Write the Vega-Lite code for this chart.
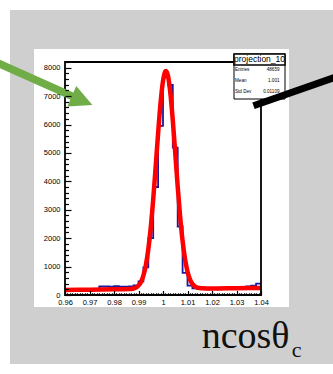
{
  "$schema": "https://vega.github.io/schema/vega-lite/v6.json",
  "width": 196,
  "height": 233,
  "autosize": {"type": "none"},
  "padding": {"left": 65, "top": 62, "right": 72, "bottom": 79},
  "background": "white",
  "config": {
    "view": {"stroke": null},
    "axis": {
      "grid": false,
      "domain": false,
      "title": null,
      "labelFont": "Liberation Sans",
      "labelFontSize": 7.5,
      "labelColor": "black",
      "tickColor": "black",
      "tickWidth": 1.2
    }
  },
  "datasets": {
    "bins": [
      {"lo": 0.960, "count": 150}, {"lo": 0.962, "count": 150}, {"lo": 0.964, "count": 160},
      {"lo": 0.966, "count": 160}, {"lo": 0.968, "count": 170}, {"lo": 0.970, "count": 170},
      {"lo": 0.972, "count": 180}, {"lo": 0.974, "count": 300}, {"lo": 0.976, "count": 300},
      {"lo": 0.978, "count": 290}, {"lo": 0.980, "count": 310}, {"lo": 0.982, "count": 290},
      {"lo": 0.984, "count": 290}, {"lo": 0.986, "count": 300}, {"lo": 0.988, "count": 340},
      {"lo": 0.990, "count": 480}, {"lo": 0.992, "count": 970}, {"lo": 0.994, "count": 2000},
      {"lo": 0.996, "count": 3800}, {"lo": 0.998, "count": 5950}, {"lo": 1.000, "count": 7660},
      {"lo": 1.002, "count": 7390}, {"lo": 1.004, "count": 5190}, {"lo": 1.006, "count": 2410},
      {"lo": 1.008, "count": 780}, {"lo": 1.010, "count": 330}, {"lo": 1.012, "count": 230},
      {"lo": 1.014, "count": 210}, {"lo": 1.016, "count": 210}, {"lo": 1.018, "count": 200},
      {"lo": 1.020, "count": 210}, {"lo": 1.022, "count": 200}, {"lo": 1.024, "count": 210},
      {"lo": 1.026, "count": 210}, {"lo": 1.028, "count": 220}, {"lo": 1.030, "count": 220},
      {"lo": 1.032, "count": 230}, {"lo": 1.034, "count": 300}, {"lo": 1.036, "count": 330},
      {"lo": 1.038, "count": 400}, {"lo": 1.040, "count": 400}
    ],
    "fit": [
      {"x": 0.960, "fit": 180}, {"x": 0.970, "fit": 189}, {"x": 0.980, "fit": 198},
      {"x": 0.984, "fit": 201}, {"x": 0.986, "fit": 207}, {"x": 0.987, "fit": 214},
      {"x": 0.988, "fit": 230}, {"x": 0.989, "fit": 263}, {"x": 0.990, "fit": 330},
      {"x": 0.991, "fit": 458}, {"x": 0.992, "fit": 683}, {"x": 0.993, "fit": 1050},
      {"x": 0.994, "fit": 1606}, {"x": 0.995, "fit": 2378}, {"x": 0.996, "fit": 3365},
      {"x": 0.997, "fit": 4507}, {"x": 0.998, "fit": 5691}, {"x": 0.999, "fit": 6756},
      {"x": 1.000, "fit": 7531}, {"x": 1.001, "fit": 7876}, {"x": 1.0012, "fit": 7886},
      {"x": 1.002, "fit": 7727}, {"x": 1.003, "fit": 7113}, {"x": 1.004, "fit": 6146},
      {"x": 1.005, "fit": 4991}, {"x": 1.006, "fit": 3817}, {"x": 1.007, "fit": 2759},
      {"x": 1.008, "fit": 1899}, {"x": 1.009, "fit": 1261}, {"x": 1.010, "fit": 825},
      {"x": 1.011, "fit": 551}, {"x": 1.012, "fit": 391}, {"x": 1.013, "fit": 305},
      {"x": 1.014, "fit": 262}, {"x": 1.015, "fit": 243}, {"x": 1.016, "fit": 235},
      {"x": 1.018, "fit": 232}, {"x": 1.020, "fit": 232}, {"x": 1.030, "fit": 241},
      {"x": 1.040, "fit": 250}
    ],
    "stats": [
      {"stat": "Entries", "value": "48659"},
      {"stat": "Mean", "value": "1.001"},
      {"stat": "Std Dev", "value": "0.01109"}
    ]
  },
  "resolve": {"axis": {"x": "independent", "y": "independent"}},
  "layer": [
    {
      "data": {"values": [{}]},
      "mark": {"type": "rect", "color": "#d0cfd0"},
      "encoding": {
        "x": {"datum": 0.93755, "type": "quantitative", "scale": {"domain": [0.96, 1.04], "nice": false, "zero": false}, "axis": null},
        "x2": {"datum": 1.07225},
        "y": {"datum": 10030, "type": "quantitative", "scale": {"domain": [0, 8200], "nice": false, "zero": false}, "axis": null},
        "y2": {"datum": -2428}
      }
    },
    {
      "data": {"values": [{}]},
      "mark": {"type": "rect", "color": "white"},
      "encoding": {
        "x": {"datum": 0.947347, "type": "quantitative", "scale": {"domain": [0.96, 1.04], "nice": false, "zero": false}, "axis": null},
        "x2": {"datum": 1.051429},
        "y": {"datum": 8657, "type": "quantitative", "scale": {"domain": [0, 8200], "nice": false, "zero": false}, "axis": null},
        "y2": {"datum": -422}
      }
    },
    {
      "data": {"name": "bins"},
      "mark": {"type": "line", "interpolate": "step-after", "color": "#1a1a9e", "strokeWidth": 1.8},
      "encoding": {
        "x": {
          "field": "lo", "type": "quantitative",
          "scale": {"domain": [0.96, 1.04], "nice": false, "zero": false},
          "axis": {"orient": "bottom", "zindex": 2, "ticks": false, "labelPadding": 3, "labelFlush": false, "labelOverlap": false, "format": "~g",
                   "values": [0.96, 0.97, 0.98, 0.99, 1, 1.01, 1.02, 1.03, 1.04]}
        },
        "y": {
          "field": "count", "type": "quantitative",
          "scale": {"domain": [0, 8200], "nice": false, "zero": false},
          "axis": {"orient": "left", "zindex": 2, "ticks": false, "labelPadding": 5, "labelFlush": false, "labelOverlap": false, "format": "d",
                   "values": [0, 1000, 2000, 3000, 4000, 5000, 6000, 7000, 8000]}
        }
      }
    },
    {
      "data": {"name": "fit"},
      "mark": {"type": "line", "interpolate": "monotone", "color": "#ff0000", "strokeWidth": 4.5},
      "encoding": {
        "x": {
          "field": "x", "type": "quantitative",
          "scale": {"domain": [0.96, 1.04], "nice": false, "zero": false},
          "axis": {"orient": "bottom", "zindex": 2, "labels": false, "tickSize": -4.5,
                   "values": [0.96, 0.97, 0.98, 0.99, 1, 1.01, 1.02, 1.03, 1.04]}
        },
        "y": {
          "field": "fit", "type": "quantitative",
          "scale": {"domain": [0, 8200], "nice": false, "zero": false},
          "axis": {"orient": "left", "zindex": 2, "labels": false, "tickSize": -6,
                   "values": [0, 1000, 2000, 3000, 4000, 5000, 6000, 7000, 8000]}
        }
      }
    },
    {
      "data": {"values": [{}]},
      "mark": {"type": "rect", "fill": "white", "fillOpacity": 0, "stroke": "black", "strokeWidth": 1.8},
      "encoding": {
        "x": {
          "datum": 0.96, "type": "quantitative",
          "scale": {"domain": [0.96, 1.04], "nice": false, "zero": false},
          "axis": {"orient": "bottom", "zindex": 2, "labels": false, "tickSize": -2.2,
                   "values": [0.961, 0.962, 0.963, 0.964, 0.965, 0.966, 0.967, 0.968, 0.969,
                              0.971, 0.972, 0.973, 0.974, 0.975, 0.976, 0.977, 0.978, 0.979,
                              0.981, 0.982, 0.983, 0.984, 0.985, 0.986, 0.987, 0.988, 0.989,
                              0.991, 0.992, 0.993, 0.994, 0.995, 0.996, 0.997, 0.998, 0.999,
                              1.001, 1.002, 1.003, 1.004, 1.005, 1.006, 1.007, 1.008, 1.009,
                              1.011, 1.012, 1.013, 1.014, 1.015, 1.016, 1.017, 1.018, 1.019,
                              1.021, 1.022, 1.023, 1.024, 1.025, 1.026, 1.027, 1.028, 1.029,
                              1.031, 1.032, 1.033, 1.034, 1.035, 1.036, 1.037, 1.038, 1.039]}
        },
        "x2": {"datum": 1.04},
        "y": {
          "datum": 0, "type": "quantitative",
          "scale": {"domain": [0, 8200], "nice": false, "zero": false},
          "axis": {"orient": "left", "zindex": 2, "labels": false, "tickSize": -3.5,
                   "values": [200, 400, 600, 800, 1200, 1400, 1600, 1800, 2200, 2400, 2600, 2800,
                              3200, 3400, 3600, 3800, 4200, 4400, 4600, 4800, 5200, 5400, 5600, 5800,
                              6200, 6400, 6600, 6800, 7200, 7400, 7600, 7800, 8200]}
        },
        "y2": {"datum": 8200}
      }
    },
    {
      "data": {"values": [{}]},
      "mark": {"type": "rect", "fill": "white", "stroke": "black", "strokeWidth": 1},
      "encoding": {
        "x": {"datum": 1.02898, "type": "quantitative", "scale": {"domain": [0.96, 1.04], "nice": false, "zero": false}, "axis": null},
        "x2": {"datum": 1.049796},
        "y": {"datum": 8481.5, "type": "quantitative", "scale": {"domain": [0, 8200], "nice": false, "zero": false}, "axis": null},
        "y2": {"datum": 6897.8}
      }
    },
    {
      "data": {"values": [{}]},
      "mark": {"type": "rect", "fill": "white", "stroke": "black", "strokeWidth": 1.5},
      "encoding": {
        "x": {"datum": 1.02898, "type": "quantitative", "scale": {"domain": [0.96, 1.04], "nice": false, "zero": false}, "axis": null},
        "x2": {"datum": 1.049796},
        "y": {"datum": 8481.5, "type": "quantitative", "scale": {"domain": [0, 8200], "nice": false, "zero": false}, "axis": null},
        "y2": {"datum": 8094.4}
      }
    },
    {
      "data": {"values": [{}]},
      "mark": {"type": "text", "text": "projection_10", "font": "Liberation Sans", "fontSize": 8.5, "align": "center", "baseline": "middle", "color": "black"},
      "encoding": {
        "x": {"datum": 1.039388, "type": "quantitative", "scale": {"domain": [0.96, 1.04], "nice": false, "zero": false}, "axis": null},
        "y": {"datum": 8288, "type": "quantitative", "scale": {"domain": [0, 8200], "nice": false, "zero": false}, "axis": null}
      }
    },
    {
      "data": {"name": "stats"},
      "mark": {"type": "text", "font": "Liberation Sans", "fontSize": 4.6, "align": "left", "baseline": "middle", "color": "black"},
      "encoding": {
        "x": {"datum": 1.029388, "type": "quantitative", "scale": {"domain": [0.96, 1.04], "nice": false, "zero": false}, "axis": null},
        "y": {"datum": 7524.3, "type": "quantitative", "scale": {"domain": [0, 8200], "nice": false, "zero": false}, "axis": null},
        "yOffset": {"field": "stat", "type": "nominal", "sort": ["Entries", "Mean", "Std Dev"], "scale": {"type": "point", "range": [-11.2, 11.2], "padding": 0}},
        "text": {"field": "stat", "type": "nominal"}
      }
    },
    {
      "data": {"name": "stats"},
      "mark": {"type": "text", "font": "Liberation Sans", "fontSize": 4.6, "align": "right", "baseline": "middle", "color": "black"},
      "encoding": {
        "x": {"datum": 1.047551, "type": "quantitative", "scale": {"domain": [0.96, 1.04], "nice": false, "zero": false}, "axis": null},
        "y": {"datum": 7524.3, "type": "quantitative", "scale": {"domain": [0, 8200], "nice": false, "zero": false}, "axis": null},
        "yOffset": {"field": "stat", "type": "nominal", "sort": ["Entries", "Mean", "Std Dev"], "scale": {"type": "point", "range": [-11.2, 11.2], "padding": 0}},
        "text": {"field": "value", "type": "nominal"}
      }
    },
    {
      "data": {"values": [{}]},
      "mark": {"type": "rule", "color": "black", "strokeWidth": 7, "strokeCap": "butt"},
      "encoding": {
        "x": {"datum": 1.036939, "type": "quantitative", "scale": {"domain": [0.96, 1.04], "nice": false, "zero": false}, "axis": null},
        "x2": {"datum": 1.072245},
        "y": {"datum": 6658.5, "type": "quantitative", "scale": {"domain": [0, 8200], "nice": false, "zero": false}, "axis": null},
        "y2": {"datum": 7724.9}
      }
    },
    {
      "data": {"values": [{}]},
      "mark": {"type": "rule", "color": "#70ad47", "strokeWidth": 7.7, "strokeCap": "butt"},
      "encoding": {
        "x": {"datum": 0.931429, "type": "quantitative", "scale": {"domain": [0.96, 1.04], "nice": false, "zero": false}, "axis": null},
        "x2": {"datum": 0.964082},
        "y": {"datum": 8208.8, "type": "quantitative", "scale": {"domain": [0, 8200], "nice": false, "zero": false}, "axis": null},
        "y2": {"datum": 6950.6}
      }
    },
    {
      "data": {"values": [{}]},
      "mark": {"type": "point", "shape": "M1,0L-1,-1L-1,1Z", "size": 502, "angle": 23.3, "filled": true, "color": "#70ad47", "opacity": 1, "strokeWidth": 0},
      "encoding": {
        "x": {"datum": 0.96698, "type": "quantitative", "scale": {"domain": [0.96, 1.04], "nice": false, "zero": false}, "axis": null},
        "y": {"datum": 6841.5, "type": "quantitative", "scale": {"domain": [0, 8200], "nice": false, "zero": false}, "axis": null}
      }
    },
    {
      "data": {"values": [{}]},
      "mark": {"type": "text", "text": "ncosθ", "font": "Liberation Serif", "fontSize": 38, "align": "left", "baseline": "alphabetic", "color": "#111111"},
      "encoding": {
        "x": {"datum": 1.015796, "type": "quantitative", "scale": {"domain": [0.96, 1.04], "nice": false, "zero": false}, "axis": null},
        "y": {"datum": -1875.8, "type": "quantitative", "scale": {"domain": [0, 8200], "nice": false, "zero": false}, "axis": null}
      }
    },
    {
      "data": {"values": [{}]},
      "mark": {"type": "text", "text": "c", "font": "Liberation Serif", "fontSize": 22, "align": "left", "baseline": "alphabetic", "color": "#111111"},
      "encoding": {
        "x": {"datum": 1.05253, "type": "quantitative", "scale": {"domain": [0.96, 1.04], "nice": false, "zero": false}, "axis": null},
        "y": {"datum": -2171.4, "type": "quantitative", "scale": {"domain": [0, 8200], "nice": false, "zero": false}, "axis": null}
      }
    }
  ]
}
